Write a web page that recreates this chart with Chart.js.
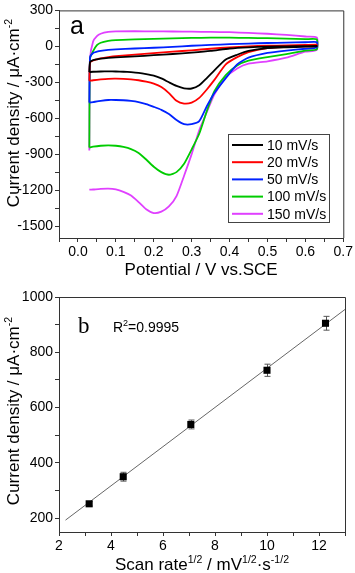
<!DOCTYPE html>
<html lang="en">
<head>
<meta charset="UTF-8" />
<title>CV curves and scan rate fit</title>
<style>
  body { margin: 0; background: #fff; }
  canvas { display: block; }
</style>
</head>
<body>
<canvas id="cvChart" width="355" height="280"></canvas>
<canvas id="fitChart" width="355" height="293"></canvas>
<script src="https://cdn.jsdelivr.net/npm/chart.js"></script>
<script>
// ---- panel a: cyclic voltammograms ----
const scanLabels = ["10 mV/s", "20 mV/s", "50 mV/s", "100 mV/s", "150 mV/s"];
const scanColors = ["#000000", "#ff0000", "#0022ff", "#00cc00", "#e040ff"];

// anodic sweep (0.03 -> 0.63 V) and cathodic sweep (0.63 -> 0.03 V)
const potUp = [0.03, 0.032, 0.04, 0.05, 0.06, 0.08, 0.10, 0.15, 0.20, 0.25, 0.30, 0.35, 0.40, 0.45, 0.50, 0.55, 0.60, 0.63];
const potDown = [0.63, 0.60, 0.55, 0.50, 0.45, 0.42, 0.39, 0.36, 0.34, 0.32, 0.30, 0.28, 0.26, 0.24, 0.22, 0.20, 0.18, 0.16, 0.14, 0.12, 0.10, 0.08, 0.06, 0.04, 0.03];

const up10 = [-215, -130, -115, -108, -102, -96, -92, -84, -74, -64, -52, -38, -18, -8, -3, 0, 2, 3];
const down10 = [0, -3, -8, -15, -38, -70, -110, -200, -265, -325, -352, -350, -330, -300, -268, -245, -232, -222, -216, -212, -210, -209, -210, -212, -215];
const up20 = [-288, -135, -118, -108, -100, -90, -82, -70, -57, -45, -33, -20, -8, 0, 5, 8, 12, 14];
const down20 = [5, 0, -5, -15, -48, -90, -150, -280, -360, -430, -470, -478, -455, -390, -340, -312, -295, -283, -276, -272, -270, -271, -276, -283, -288];
const up50 = [-470, -90, -55, -45, -38, -30, -25, -18, -12, -5, 5, 12, 18, 23, 28, 31, 34, 35];
const down50 = [-10, -20, -35, -55, -95, -150, -265, -390, -500, -625, -650, -650, -615, -565, -530, -505, -482, -466, -456, -450, -448, -448, -455, -465, -470];
const up100 = [-845, -100, -40, 10, 30, 45, 52, 58, 62, 66, 70, 72, 72, 70, 68, 65, 60, 58];
const down100 = [-25, -35, -65, -90, -120, -160, -240, -375, -540, -730, -860, -980, -1050, -1072, -1050, -1005, -945, -890, -858, -840, -830, -826, -830, -838, -845];
const up150 = [-870, -100, 40, 85, 105, 120, 125, 126, 125, 124, 122, 120, 118, 112, 105, 95, 82, 75];
const down150 = [-30, -45, -95, -125, -145, -185, -260, -400, -550, -700, -900, -1080, -1250, -1337, -1380, -1392, -1360, -1300, -1245, -1215, -1195, -1188, -1190, -1195, -1197];

const upSweeps = [up10, up20, up50, up100, up150];
const downSweeps = [down10, down20, down50, down100, down150];

const potTickLabels = [0.0, 0.1, 0.2, 0.3, 0.4, 0.5, 0.6, 0.7];
const curTickLabels = [300, 0, -300, -600, -900, -1200, -1500];

// ---- panel b: peak current vs sqrt(scan rate) ----
const sqrtRate = [3.16, 4.47, 7.07, 10.0, 12.25];
const peakCurrent = [252, 350, 539, 735, 905];
const peakError = [8, 16, 16, 22, 25];
const fitX = [2.25, 13];
const fitY = [193, 955];
const rateTickLabels = [2, 4, 6, 8, 10, 12];
const densTickLabels = [200, 400, 600, 800, 1000];

const sans = '"Liberation Sans", Arial, sans-serif';
const serif = '"Liberation Serif", "Times New Roman", serif';
const axisColor = "#333";

// text with superscripts: parts = [[text, isSup], ...]
function richWidth(ctx, parts, size) {
    let w = 0;
    parts.forEach(([t, sup]) => {
        ctx.font = (sup ? size * 0.62 : size) + "px " + sans;
        w += ctx.measureText(t).width;
    });
    return w;
}
function drawRich(ctx, parts, cx, baseline, size) {
    let x = cx - richWidth(ctx, parts, size) / 2;
    ctx.textAlign = "left";
    ctx.textBaseline = "alphabetic";
    parts.forEach(([t, sup]) => {
        ctx.font = (sup ? size * 0.62 : size) + "px " + sans;
        ctx.fillText(t, x, sup ? baseline - size * 0.42 : baseline);
        x += ctx.measureText(t).width;
    });
}

function withMinor(major) {
    // add a minor tick half-way between labelled ones (and one step outside)
    const out = [];
    const step = major[1] - major[0];
    for (let i = -1; i < major.length; i++) {
        const v = i < 0 ? major[0] - step / 2 : major[i];
        out.push(v);
        if (i >= 0) out.push(v + step / 2);
    }
    return out.map(v => Math.round(v * 1e6) / 1e6);
}

function makeAxis(min, max, ticks, labelled, fmt, fit) {
    return {
        type: "linear",
        min: min,
        max: max,
        afterBuildTicks: s => { s.ticks = ticks.filter(v => v >= min - 1e-9 && v <= max + 1e-9).map(v => ({ value: v })); },
        afterFit: fit,
        grid: { drawOnChartArea: false, drawTicks: true, tickLength: 4, color: axisColor, lineWidth: 1 },
        border: { display: true, color: axisColor, width: 1 },
        ticks: {
            autoSkip: false,
            maxRotation: 0,
            padding: 2,
            color: "#000",
            font: { family: sans, size: 14 },
            callback: v => labelled.some(l => Math.abs(l - v) < 1e-6) ? fmt(v) : ""
        }
    };
}

const framePlugin = {
    id: "frame",
    afterDraw(chart, args, o) {
        const ctx = chart.ctx;
        const a = chart.chartArea;
        ctx.save();
        ctx.strokeStyle = axisColor;
        ctx.lineWidth = 1;
        ctx.beginPath();
        ctx.moveTo(a.left, a.top + 0.5);
        ctx.lineTo(a.right + 0.5, a.top + 0.5);
        ctx.lineTo(a.right + 0.5, a.bottom);
        ctx.stroke();
        ctx.fillStyle = "#000";
        // x title
        drawRich(ctx, o.xTitle, (a.left + a.right) / 2, o.xTitleY, 17);
        // y title (rotated)
        ctx.save();
        ctx.translate(19, o.yTitleY);
        ctx.rotate(-Math.PI / 2);
        drawRich(ctx, o.yTitle, 0, 0, 17);
        ctx.restore();
        if (o.extra) o.extra(chart, ctx);
        ctx.restore();
    }
};

// ---------- chart a ----------
const cvDatasets = scanLabels.map((lab, k) => ({
    label: lab,
    data: potUp.map((x, i) => ({ x: x, y: upSweeps[k][i] }))
        .concat(potDown.map((x, i) => ({ x: x, y: downSweeps[k][i] }))),
    showLine: true,
    borderColor: scanColors[k],
    backgroundColor: scanColors[k],
    borderWidth: 1.8,
    pointRadius: 0,
    tension: 0.2
}));

new Chart(document.getElementById("cvChart"), {
    type: "scatter",
    data: { datasets: cvDatasets },
    options: {
        responsive: false,
        animation: false,
        events: [],
        layout: { padding: { top: 7, right: 11, left: 0, bottom: 0 } },
        scales: {
            x: makeAxis(-0.05, 0.7, withMinor(potTickLabels), potTickLabels, v => v.toFixed(1), s => { s.height = 42; }),
            y: makeAxis(-1600, 300, withMinor(curTickLabels.slice().reverse()), curTickLabels, v => String(Math.round(v)), s => { s.width = 59; })
        },
        plugins: {
            legend: { display: false },
            tooltip: { enabled: false },
            frame: {
                xTitle: [["Potential / V vs.SCE", false]],
                xTitleY: 275,
                yTitle: [["Current density / \u03bcA\u00b7cm", false], ["-2", true]],
                yTitleY: 113,
                extra(chart, ctx) {
                    ctx.font = "25px " + sans;
                    ctx.textAlign = "left";
                    ctx.fillText("a", 70, 34);
                    // legend box
                    ctx.strokeStyle = "#444";
                    ctx.strokeRect(228.5, 134.5, 101, 88);
                    chart.data.datasets.forEach((ds, i) => {
                        const y = 145 + i * 17.2;
                        ctx.strokeStyle = ds.borderColor;
                        ctx.lineWidth = 2;
                        ctx.beginPath();
                        ctx.moveTo(232, y);
                        ctx.lineTo(263, y);
                        ctx.stroke();
                        ctx.fillStyle = "#000";
                        ctx.font = "14px " + sans;
                        ctx.textBaseline = "middle";
                        ctx.fillText(ds.label, 267, y + 1);
                    });
                }
            }
        }
    },
    plugins: [framePlugin]
});

// ---------- chart b ----------
const errorBarPlugin = {
    id: "errorBars",
    beforeDatasetsDraw(chart) {
        const ctx = chart.ctx;
        const xs = chart.scales.x, ys = chart.scales.y;
        ctx.save();
        ctx.strokeStyle = "#555";
        ctx.lineWidth = 1;
        sqrtRate.forEach((x, i) => {
            const px = Math.round(xs.getPixelForValue(x)) + 0.5;
            const top = ys.getPixelForValue(peakCurrent[i] + peakError[i]);
            const bot = ys.getPixelForValue(peakCurrent[i] - peakError[i]);
            ctx.beginPath();
            ctx.moveTo(px, top); ctx.lineTo(px, bot);
            ctx.moveTo(px - 3, top); ctx.lineTo(px + 3, top);
            ctx.moveTo(px - 3, bot); ctx.lineTo(px + 3, bot);
            ctx.stroke();
        });
        ctx.restore();
    }
};

new Chart(document.getElementById("fitChart"), {
    type: "scatter",
    data: {
        datasets: [
            {
                label: "data",
                data: sqrtRate.map((x, i) => ({ x: x, y: peakCurrent[i] })),
                pointStyle: "rect",
                pointRadius: 5,
                backgroundColor: "#000",
                borderColor: "#000",
                borderWidth: 0,
                order: 0
            },
            {
                label: "fit",
                data: fitX.map((x, i) => ({ x: x, y: fitY[i] })),
                showLine: true,
                pointRadius: 0,
                borderColor: "#666",
                borderWidth: 1,
                order: 1
            }
        ]
    },
    options: {
        responsive: false,
        animation: false,
        events: [],
        layout: { padding: { top: 17, right: 10, left: 0, bottom: 0 } },
        scales: {
            x: makeAxis(2, 13, withMinor(rateTickLabels).concat([13]), rateTickLabels, v => String(v), s => { s.height = 41; }),
            y: makeAxis(150, 1000, withMinor(densTickLabels), densTickLabels, v => String(v), s => { s.width = 59; })
        },
        plugins: {
            legend: { display: false },
            tooltip: { enabled: false },
            frame: {
                xTitle: [["Scan rate", false], ["1/2", true], [" / mV", false], ["1/2", true], ["\u00b7s", false], ["-1/2", true]],
                xTitleY: 290,
                yTitle: [["Current density / \u03bcA\u00b7cm", false], ["-2", true]],
                yTitleY: 131,
                extra(chart, ctx) {
                    ctx.font = "23px " + serif;
                    ctx.textAlign = "left";
                    ctx.fillText("b", 78, 53);
                    ctx.font = "14px " + sans;
                    ctx.fillText("R", 113, 52);
                    let x = 113 + ctx.measureText("R").width;
                    ctx.font = "9px " + sans;
                    ctx.fillText("2", x, 46);
                    x += ctx.measureText("2").width;
                    ctx.font = "14px " + sans;
                    ctx.fillText("=0.9995", x, 52);
                }
            }
        }
    },
    plugins: [framePlugin, errorBarPlugin]
});
</script>
</body>
</html>
